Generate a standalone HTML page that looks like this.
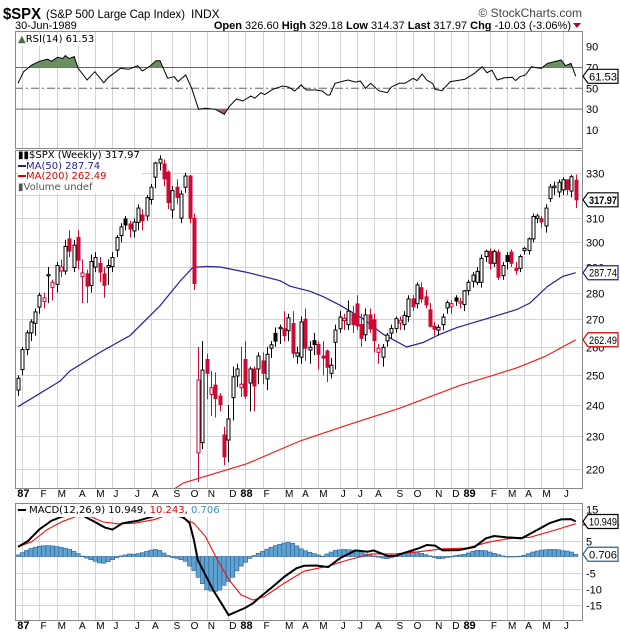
<!DOCTYPE html>
<html><head><meta charset="utf-8"><style>
html,body{margin:0;padding:0;background:#fff;}
svg{display:block;font-family:"Liberation Sans",sans-serif;}
</style></head><body>
<svg id="chart" width="620" height="639" viewBox="0 0 620 639" xmlns="http://www.w3.org/2000/svg">
<rect x="0" y="0" width="620" height="639" fill="#fff"/>
<g>
<text x="3" y="19" font-size="16" font-weight="bold" fill="#000" textLength="38" lengthAdjust="spacingAndGlyphs">$SPX</text>
<text x="46" y="18" font-size="12" fill="#000" textLength="139" lengthAdjust="spacingAndGlyphs">(S&amp;P 500 Large Cap Index)</text>
<text x="191" y="18" font-size="12" fill="#000">INDX</text>
<text x="582" y="17" font-size="12" fill="#444" text-anchor="end">© StockCharts.com</text>
<text x="15" y="29" font-size="11" fill="#000">30-Jun-1989</text>
<text x="571" y="29" font-size="11" fill="#000" text-anchor="end"><tspan font-weight="bold">Open</tspan> 326.60 <tspan font-weight="bold">High</tspan> 329.18 <tspan font-weight="bold">Low</tspan> 314.37 <tspan font-weight="bold">Last</tspan> 317.97 <tspan font-weight="bold">Chg</tspan> -10.03 (-3.06%)</text>
<polygon points="573,23 581,23 577,28" fill="#a0103a"/>
</g>
<g id="layer"></g>
</svg>
<script>
// ---------- data ----------
const opens=[245,252,259,265,268.5,274.5,276.6,286.5,282,283.2,288.4,288.4,301.4,289.8,302,286.2,287.3,282.8,290,291.4,287.3,289.8,290.2,296.8,302.8,309.7,307.6,304.7,308.3,311.4,311,318.1,328,334.4,334,330.3,313.6,323.5,310.1,323.5,328.5,310,224.8,228,255.5,243.5,246.7,243,230.4,228.8,242.5,249.8,245.8,255.5,247.4,252.2,252.2,255,248.8,259.5,264.8,266.5,266.5,265.8,268.4,256.7,256.3,270,258.8,262.2,260.8,256.7,258.5,250.7,261.6,266.5,269.5,268,272,275.7,268,264.3,271.6,269.8,258,256.3,262.1,264.9,266.6,268.6,268,271,277.6,275.8,281.9,278.4,273.5,267.4,266,268,274.2,274.6,278,276,275.5,280.8,284.4,284,284,294.2,296.3,291.5,295.9,286.6,294.6,296,289.5,289.5,296.6,296.6,301.4,310,309.8,306.8,318.5,323.3,321.4,322.3,326.8,321.8,326.6];
const highs=[250,260,266,270,274,280,280,290,285,292,293,301,305,301,305,293,289,295,296,294,290,293,296,303,308,311,309,310,316,314,320,325,335,338,336,331,324,327,322,330,329,312,260,262,257.5,251.5,251,244,233,240,253,254,260,262,253,253,258,258,260,262,267,268,273,272,273,260,271,274,262,265,262,262,259,256,268,273,272,277,275,279,272,274,274,272,261,261,265,268,271,271,273,279,279,284,284,281,276,269,268,272,277,277,279,278,281,285,288,290,295,297,297.5,297,297,292,296,297,292,295,298,302,312,312,311,316,325,326,327,328,327,329,329.18];
const lows=[243,250,257,262,264,272,274,276,277,280,286,287,294,288,289,276,276,280,288,284,278,283,288,294,300,305,302,302,305,305,309,316,323,331,324,314,310,316,308,321,308,281,216,226,242,236.5,236,238,221,222,235,246,242.7,242,238,238,247,247,245,256,260,261,262,262,256,254,254,255,254,257,252,250,247.7,249,252,265,266,266,265,266,260,262,265,258,254,253,260,263,265,266,266,269,273,274,276,274,267,264,264,266,272,272,275,274,273,279,282,283,282,292,289,290,285,285,289,290,287,288,295,295,300,308,306,304,317,320,319,320,320,319,314.37];
const closes=[249,259,265,269,272.7,279,278,287,284,290.6,290,298.3,296.4,298.8,292.7,287.7,282.5,292.2,293.8,288,282.8,290.6,293.8,302,306.4,307.2,305.5,308.4,314.4,309,318.9,323.5,334.4,336.2,327.2,316.8,322,319,320.5,328.5,310,283.5,248.4,251.8,250.7,245.8,242.2,240.2,223.6,235.5,249.5,252.2,247,243,252.2,246.4,256.7,250.7,257.3,260.7,262,267,264,270.5,257.7,257.8,269,259.5,259.8,260.8,257.3,256,252.8,253.5,266,270.8,270.3,273,268,267.5,263,271.6,266.4,262.2,259.5,259.8,264.2,266.6,270.2,269.6,271.4,277.6,274.6,283,277.6,275.3,267.4,266.3,267,270.8,276.2,275.8,276.8,276.5,280.7,284,286.8,288.2,293.5,296.3,291.4,296.3,286,290.6,292.2,291.5,288.6,294.2,297.5,301.4,310.8,311,308.5,314.4,323.6,324,325.7,326.8,322.5,328.2,317.97];
const ma50Weeks=[0,9.8,12.1,19.1,26.1,33.1,37.8,40.8,44.1,47.1,53.1,61.1,63.4,68.1,71.1,75.1,80.4,85.1,90.6,94.4,98.4,102.3,110.7,116.3,119.3,123.5,127,130];
const ma50Vals=[239.5,248,251.5,258,264,275,284.5,289.9,290.2,290,288,284.6,282.5,280.5,278.5,275.2,270.2,264.5,259.9,261.5,264.5,266.9,270.9,273.6,276,282.5,286.3,287.74];
const ma200Weeks=[36,38.5,53.4,65.7,76.7,89,103,110.7,116.3,122.8,130];
const ma200Vals=[213.6,215.7,221.5,228.5,233.5,239,246.6,250,252.6,256.5,262.49];
const rsiWeeks=[0,1.3,3.2,5,6.9,7.8,9.2,10.5,11,11.9,13.1,14,16.1,17.9,20,21.1,23.9,25.8,27.9,29,30.8,32.2,33.1,34.9,36.4,37.3,39.1,40.5,42.1,43.7,46,48.1,49.2,50.9,52.4,54.3,55.2,56.6,57.5,59.4,61.7,63.1,64.5,66,67.2,69.5,70.9,72.1,72.7,73.9,76.9,78.7,79.8,81,82.2,84.1,86.1,87,88.9,90.2,92.1,93,94.2,95.3,96.7,97.2,98.8,100.8,101.7,104.1,106.4,108.2,109.3,110.5,111.7,113.3,115.2,116,117,118.3,119.7,120.9,122,123.4,126.6,127.6,128.9,130];
const rsiVals=[54.8,66,72.4,76,78,76,79.8,78.7,81.4,78.7,80.4,69.2,58,66,55.4,60.6,69.2,68.3,71.7,66.6,71.4,76.5,76.5,59.6,61.2,56.4,62.8,50,29.8,30.8,29.8,25,32.3,39.7,37.8,42.6,40.4,45.8,43.9,49,52.2,51.2,47.4,53.2,48.4,48.4,47.4,43.6,43.6,54.8,58,56,57,50,54.8,47.7,45.8,51.2,54.8,54.8,59.6,57.4,63.7,58,54.5,49,47.7,56.4,57,58.6,64.4,70.8,65,67.3,58,60,60.6,57.4,61.2,62.8,70.8,69.8,69.2,73.9,77.2,71.7,73.9,61.53];
const macdWeeks=[0,2.3,5,7.8,10.1,14.2,15.6,17.9,20.2,22,24.4,28,31.2,34.5,36.4,38.6,40,41,41.9,43.7,45.5,47.4,49.1,51,52.9,54.8,56.6,59.4,62.1,64.9,66.7,69.5,72.3,75.1,78.7,81.5,82.9,86.1,87.9,89.7,93.5,95.3,97.2,99,102.7,106.4,109.1,111,113.7,117.4,120.2,123.9,126.6,128.9,130];
const macdVals=[3,4.8,8.5,11.2,12.4,13.5,12.4,10.8,9.1,8.4,10.4,11.2,12.4,13.5,13.2,12.2,10.4,5.2,-1.1,-5.8,-10.5,-14.6,-18.3,-17.2,-16.1,-14.6,-12.5,-9.4,-6.3,-3.7,-2.9,-2.8,-3.3,-0.5,1.9,1.5,1.9,0.2,0.2,1,2.6,3.6,3.4,1.9,2,3,5.7,6.4,6,5.7,7.7,10.4,11.6,11.7,10.949];
const signalWeeks=[0,3.2,6.9,10.5,14.2,17,19.8,23.4,27.1,31.7,34.5,37.7,41,43.7,46.5,49.2,52,54.8,57.5,62.1,66.7,72.3,76.9,82.4,87.9,93.5,99,104.5,110,115.6,119.3,124.8,130];
const signalVals=[3,4.6,8.5,11,12.8,12.4,10.8,10.2,10.4,11.5,12.8,12.4,10.4,6.2,-1.1,-7.3,-12,-13.6,-12.5,-8.3,-4.6,-3,-1.1,0.8,0.8,1.5,2.4,2.6,4.6,5.8,6,8.1,10.243];
const histVals=[0.5,1.2,1.9,2.5,2.9,3.2,3.4,3.4,3.3,3.1,2.9,2.6,2.2,1.6,0.9,0.1,-0.5,-1.0,-1.5,-2.0,-2.1,-1.6,-1.0,-0.4,0.2,0.5,0.8,0.7,0.9,1.2,1.6,2.0,2.2,1.9,1.1,0.3,-0.3,-0.6,-1.0,-1.5,-3.0,-4.4,-6.5,-8.5,-10.4,-10.8,-10.9,-10.5,-9.0,-7.8,-6.5,-4.5,-3.0,-1.8,-0.6,0.3,1.0,1.6,2.3,2.9,3.4,3.8,4.2,4.4,4.1,3.3,2.4,1.8,1.3,0.9,0.5,0.1,0.8,1.4,1.9,2.1,2.2,2.1,2.0,1.6,1.2,0.8,0.5,0.2,-0.2,-0.5,-0.7,-0.4,0.1,0.6,1.0,1.4,1.5,1.4,1.0,0.6,0.2,-0.3,-0.7,-0.6,-0.3,0,0.3,0.5,0.7,1.1,1.6,1.9,1.9,1.8,1.4,1.0,0.6,0.2,0,0,0,0.1,0.4,0.9,1.4,1.7,2.0,2.1,2.2,2.2,2.1,1.8,1.7,1.4,0.7];
const priceTicks=[220,230,240,250,260,270,280,290,300,310,320,330];
const priceTickLabels=["220","230","240","250","260","270","280","290","300","310","","330"];
const rsiTicks=[10,30,50,70,90];
const macdTicks=[15,5,-5,-10,-15];
const monthLetters=["J","F","M","A","M","J","J","A","S","O","N","D"];

// ---------- scales ----------
const L=15,R=582;
const xAt=i=>18+i*4.29;
const yRsi=v=>88.3-(v-50)*1.04;
const yPx=p=>172.7+730*Math.log(330/p);
const yMacd=v=>556.5-v*3.2;
const NS="http://www.w3.org/2000/svg";
const layer=document.getElementById('layer');
function mk(tag,attrs,parent){const e=document.createElementNS(NS,tag);for(const k in attrs)e.setAttribute(k,attrs[k]);(parent||layer).appendChild(e);return e;}

const panels=[{t:31,b:148,n:'rsi'},{t:150,b:488,n:'price'},{t:503,b:620,n:'macd'}];
const defs=mk('defs',{});
panels.forEach(p=>{const c=mk('clipPath',{id:'clip-'+p.n},defs);mk('rect',{x:L,y:p.t,width:R-L,height:p.b-p.t},c);});

// month gridlines
const start=new Date(Date.UTC(1987,0,2));
const monthStarts=[];
let prevMonth=-1;
for(let i=0;i<closes.length;i++){
  const fri=new Date(start.getTime()+i*7*86400000);
  const mon=new Date(fri.getTime()-4*86400000);
  const m=mon.getUTCMonth();
  if(prevMonth!==-1 && m!==prevMonth){monthStarts.push({i:i,m:m,y:mon.getUTCFullYear()});}
  prevMonth=m;
}
panels.forEach(p=>{
  monthStarts.forEach(ms=>{
    const x=Math.round(xAt(ms.i))+0.5;
    const g=mk('line',{x1:x,x2:x,y1:p.t,y2:p.b,stroke:'#d4d4d4','stroke-width':1});
    
    
  });
});
[497,629].forEach(ly=>{
  monthStarts.forEach(ms=>{
    const isYear=ms.m===0;
    const t=mk('text',{x:isYear?Math.max(xAt(ms.i)-5,15):xAt(ms.i)+1,y:ly,'font-size':isYear?11:10,'font-weight':isYear?'bold':'normal',fill:'#000'});
    t.textContent=isYear?String(ms.y).slice(2):monthLetters[ms.m];
    
    
  });
});

// ---------- RSI panel ----------
rsiTicks.forEach(v=>{
  const t=mk('text',{x:586,y:yRsi(v)+4,'font-size':11,fill:'#000'});
  t.textContent=String(v);
  
  
});
[70,30].forEach(v=>{
  const l=mk('line',{x1:L,x2:R,y1:yRsi(v),y2:yRsi(v),stroke:'#666','stroke-width':1});
  
  
});
const mid=mk('line',{x1:L,x2:R,y1:yRsi(50),y2:yRsi(50),stroke:'#666','stroke-width':1,'stroke-dasharray':'8,3,2,3'});


const rsiPts=rsiWeeks.map((w,k)=>[xAt(w),yRsi(rsiVals[k])]);
const rsiStr=rsiPts.map(p=>p[0].toFixed(1)+','+p[1].toFixed(1)).join(' ');
const c70=mk('clipPath',{id:'clip70'},defs);mk('rect',{x:L,y:31,width:R-L,height:yRsi(70)-31},c70);
const c30=mk('clipPath',{id:'clip30'},defs);mk('rect',{x:L,y:yRsi(30),width:R-L,height:148-yRsi(30)},c30);
const f70=mk('polygon',{points:xAt(rsiWeeks[0])+','+yRsi(70)+' '+rsiStr+' '+xAt(rsiWeeks[rsiWeeks.length-1])+','+yRsi(70),fill:'#6b8f62','clip-path':'url(#clip70)'});


const f30=mk('polygon',{points:xAt(rsiWeeks[0])+','+yRsi(30)+' '+rsiStr+' '+xAt(rsiWeeks[rsiWeeks.length-1])+','+yRsi(30),fill:'#b0606a','clip-path':'url(#clip30)'});


const rsiLine=mk('polyline',{points:rsiStr,fill:'none',stroke:'#000','stroke-width':1});



// ---------- price panel ----------
priceTicks.forEach((p,k)=>{
  const y=Math.round(yPx(p))+0.5;
  const g=mk('line',{x1:L,x2:R,y1:y,y2:y,stroke:'#d4d4d4','stroke-width':1});
  
  
  const t=mk('text',{x:586,y:y+4,'font-size':11,fill:'#000'});
  t.textContent=priceTickLabels[k];
  
  
});
function polyFrom(weeks,vals,yf){return weeks.map((w,k)=>xAt(w).toFixed(1)+','+yf(vals[k]).toFixed(1)).join(' ');}
const m200=mk('polyline',{points:polyFrom(ma200Weeks,ma200Vals,yPx),fill:'none',stroke:'#f02020','stroke-width':1.2,'clip-path':'url(#clip-price)'});


const m50=mk('polyline',{points:polyFrom(ma50Weeks,ma50Vals,yPx),fill:'none',stroke:'#22229a','stroke-width':1.2,'clip-path':'url(#clip-price)'});


const candleG=mk('g',{'clip-path':'url(#clip-price)'});


const RED='#cc0a36';
for(let i=0;i<closes.length;i++){
  const o=opens[i],c=closes[i],pc=i>0?closes[i-1]:o;
  const down=c<pc;
  const col=down?RED:'#000';
  const hollow=c>=o;
  const x=Math.round(xAt(i))+0.5;
  const w=mk('line',{x1:x,x2:x,y1:yPx(highs[i]),y2:yPx(lows[i]),stroke:col,'stroke-width':1},candleG);
  
  
  const top=yPx(Math.max(o,c)),bot=yPx(Math.min(o,c));
  const b=mk('rect',{x:x-1.5,y:top,width:3,height:Math.max(bot-top,1),fill:hollow?'#fff':col,stroke:col,'stroke-width':1},candleG);
  
  
}

// ---------- MACD panel ----------
macdTicks.forEach(v=>{
  const y=Math.round(yMacd(v))+0.5;
  const g=mk('line',{x1:L,x2:R,y1:y,y2:y,stroke:'#d4d4d4','stroke-width':1});
  
  
  const t=mk('text',{x:586,y:y+4,'font-size':11,fill:'#000'});
  t.textContent=String(v);
  
  
});
histVals.forEach((v,i)=>{
  const x=xAt(i)-2.1,y0=yMacd(0),y1=yMacd(v);
  const r=mk('rect',{x:x,y:Math.min(y0,y1),width:4.29,height:Math.max(Math.abs(y1-y0),0.5),fill:'#5ea2d2',stroke:'#2d5f93','stroke-width':0.6});
  
  
});
const sig=mk('polyline',{points:polyFrom(signalWeeks,signalVals,yMacd),fill:'none',stroke:'#f01010','stroke-width':1.1});


const mac=mk('polyline',{points:polyFrom(macdWeeks,macdVals,yMacd),fill:'none',stroke:'#000','stroke-width':2});



panels.forEach(p=>{
  const r=mk('rect',{x:L+0.5,y:p.t+0.5,width:R-L,height:p.b-p.t,fill:'none',stroke:'#888','stroke-width':1});
  
  
});

// value tags
function tag(y,txt,col,name,bold){
  const g=mk('g',{});
  
  
  const w=30;
  mk('polygon',{points:`583,${y} 588,${y-7} ${588+w},${y-7} ${588+w},${y+7} 588,${y+7}`,fill:'#fff',stroke:col,'stroke-width':1.2},g);
  const t=mk('text',{x:589,y:y+4,'font-size':11,fill:'#000','font-weight':bold?'bold':'normal',textLength:28,lengthAdjust:'spacingAndGlyphs'},g);
  t.textContent=txt;
}
tag(yRsi(rsiVals[rsiVals.length-1]),'61.53','#000','rsi-value-tag',false);
tag(yPx(closes[closes.length-1]),'317.97','#000','last-price-tag',true);
tag(yPx(ma50Vals[ma50Vals.length-1]),'287.74','#22229a','ma50-value-tag',false);
tag(yPx(ma200Vals[ma200Vals.length-1]),'262.49','#e00000','ma200-value-tag',false);
const sl=mk('line',{x1:583,x2:619,y1:yMacd(signalVals[signalVals.length-1])+1,y2:yMacd(signalVals[signalVals.length-1])+1,stroke:'#e00000','stroke-width':1.5});


tag(yMacd(macdVals[macdVals.length-1]),'10.949','#000','macd-value-tag',false);
tag(yMacd(histVals[histVals.length-1]),'0.706','#2d5f93','histogram-value-tag',false);
</script>
<div style="position:absolute;left:0;top:0;width:620px;height:639px;pointer-events:none;font-family:'DejaVu Sans',sans-serif;">
  <div style="position:absolute;left:18px;top:34px;font-size:10px;background:#fff;line-height:12px;"><span style="color:#4a7040">&#9650;</span>RSI(14) 61.53</div>
  <div style="position:absolute;left:18px;top:151px;font-size:10px;line-height:10.6px;background:#fff;padding-right:2px;">
    <div>&#9646;&#9646;$SPX (Weekly) 317.97</div>
    <div style="color:#22229a"><span style="display:inline-block;width:8px;height:2px;background:#22229a;vertical-align:middle"></span>MA(50) 287.74</div>
    <div style="color:#e00000"><span style="display:inline-block;width:8px;height:2px;background:#e00000;vertical-align:middle"></span>MA(200) 262.49</div>
    <div style="color:#555">&#9646;Volume undef</div>
  </div>
  <div style="position:absolute;left:18px;top:505px;font-size:10px;line-height:12px;background:#fff;padding-right:2px;"><span style="display:inline-block;width:8px;height:2px;background:#000;vertical-align:middle"></span> MACD(12,26,9) 10.949, <span style="color:#e00000">10.243</span>, <span style="color:#3a8fc0">0.706</span></div>
</div>
</body></html>
